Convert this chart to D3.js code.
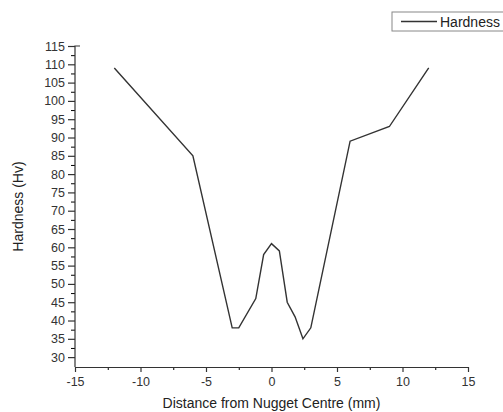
<!DOCTYPE html>
<html>
<head>
<meta charset="utf-8">
<script src="https://cdn.jsdelivr.net/npm/d3@7"></script>
<style>
  body { margin: 0; background: #fff; }
  text { font-family: "Liberation Sans", Arial, sans-serif; fill: #222; }
</style>
</head>
<body>
<div id="chart"></div>
<script>
// Hardness profile across the weld nugget
const distance = [-12, -6, -3, -2.5, -1.2, -0.6, 0, 0.6, 1.2, 1.8, 2.4, 3, 6, 9, 12];
const hardness = [109, 85, 38, 38, 46, 58, 61, 59, 45, 41, 35, 38, 89, 93, 109];
const xTicks = [-15, -10, -5, 0, 5, 10, 15];
const yTicks = [30, 35, 40, 45, 50, 55, 60, 65, 70, 75, 80, 85, 90, 95, 100, 105, 110, 115];

const width = 503, height = 412;
const margin = { top: 46, right: 35, bottom: 45, left: 75 };
const w = width - margin.left - margin.right;
const h = height - margin.top - margin.bottom;

const svg = d3.select("#chart")
  .append("svg")
  .attr("width", width)
  .attr("height", height);

const g = svg.append("g")
  .attr("transform", "translate(" + margin.left + "," + margin.top + ")");

const xScale = d3.scaleLinear().domain([-15, 15]).range([0, w]);
const yScale = d3.scaleLinear().domain([27.3, 115]).range([h, 0]);

// minor ticks first, then the major axes on top
g.append("g")
  .attr("transform", "translate(0," + h + ")")
  .call(d3.axisBottom(xScale).tickValues(d3.range(-12.5, 15, 5)).tickSize(3).tickFormat(""))
  .call(a => a.select(".domain").remove());

g.append("g")
  .call(d3.axisLeft(yScale).tickValues(d3.range(32.5, 115, 5)).tickSize(4).tickFormat(""))
  .call(a => a.select(".domain").remove());

const xAxis = g.append("g")
  .attr("transform", "translate(0," + h + ")")
  .call(d3.axisBottom(xScale).tickValues(xTicks).tickSize(5).tickPadding(5)
    .tickSizeOuter(0).tickFormat(d => String(d)));

const yAxis = g.append("g")
  .call(d3.axisLeft(yScale).tickValues(yTicks).tickSize(7).tickPadding(3)
    .tickSizeOuter(0).tickFormat(d => String(d)));

[xAxis, yAxis].forEach(a => {
  a.selectAll("text").style("font-size", "12.5px").style("fill", "#333");
  a.selectAll("line, path").attr("stroke", "#333").attr("stroke-width", 1.2);
});

// y axis ends at the top with a short stub to the right
yAxis.select(".domain").attr("d", "M0," + h + "V" + yScale(115) + "H5");

const line = d3.line()
  .x((d, i) => xScale(distance[i]))
  .y(d => yScale(d));

g.append("path")
  .datum(hardness)
  .attr("d", line)
  .attr("fill", "none")
  .attr("stroke", "#333")
  .attr("stroke-width", 1.4);

// axis titles
svg.append("text")
  .attr("x", margin.left + w / 2)
  .attr("y", 408)
  .attr("text-anchor", "middle")
  .style("font-size", "14px")
  .text("Distance from Nugget Centre (mm)");

svg.append("text")
  .attr("transform", "translate(23," + (margin.top + h / 2) + ") rotate(-90)")
  .attr("text-anchor", "middle")
  .style("font-size", "14px")
  .text("Hardness (Hv)");

// legend
const legend = svg.append("g");
legend.append("rect")
  .attr("x", 392).attr("y", 12)
  .attr("width", 112).attr("height", 19)
  .attr("fill", "#fff").attr("stroke", "#888").attr("stroke-width", 1);
legend.append("line")
  .attr("x1", 401).attr("x2", 437)
  .attr("y1", 21.5).attr("y2", 21.5)
  .attr("stroke", "#333").attr("stroke-width", 1.4);
legend.append("text")
  .attr("x", 440).attr("y", 26.5)
  .style("font-size", "14px")
  .text("Hardness");
</script>
</body>
</html>
